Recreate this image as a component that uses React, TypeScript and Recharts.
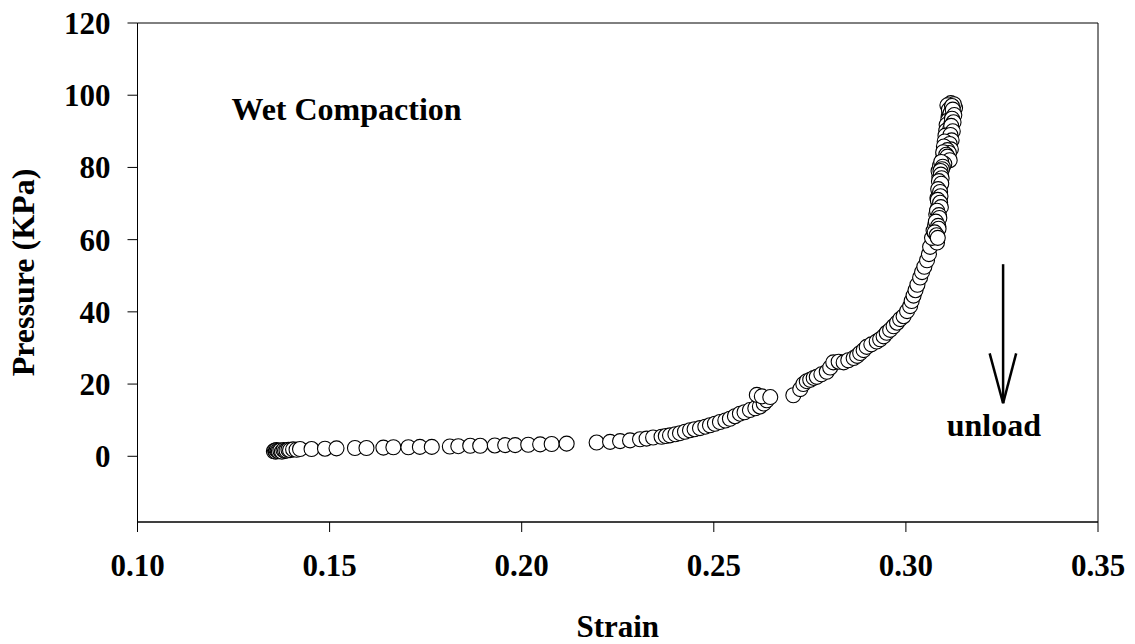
import React from "react"
import {
  ScatterChart,
  Scatter,
  XAxis,
  YAxis,
  ReferenceArea,
  ReferenceLine,
  ReferenceDot,
} from "recharts"

// wet compaction test: axial strain vs. applied pressure (kPa)
const strainTicks = [0.1, 0.15, 0.2, 0.25, 0.3, 0.35]
const pressureTicks = [0, 20, 40, 60, 80, 100, 120]

// loading path
const strain = [
  0.1355, 0.1358, 0.136, 0.1362, 0.1365, 0.1368, 0.1372, 0.1376, 0.138, 0.1384,
  0.1388, 0.1393, 0.1397, 0.1405, 0.1414, 0.1423, 0.1453, 0.1488, 0.1518, 0.1566,
  0.1596, 0.164, 0.1666, 0.1705, 0.1735, 0.1766, 0.1813, 0.1835, 0.1866, 0.1892,
  0.193, 0.1957, 0.1983, 0.2017, 0.2048, 0.2078, 0.2117, 0.2195, 0.223, 0.2256,
  0.2282, 0.2308, 0.2325, 0.2342, 0.2364, 0.2375, 0.2386, 0.24, 0.2412, 0.2425,
  0.2438, 0.245, 0.2464, 0.2478, 0.249, 0.2503, 0.2516, 0.253, 0.2542, 0.2555,
  0.2568, 0.258, 0.2594, 0.2608, 0.262, 0.263, 0.2638, 0.2612, 0.2625, 0.2647,
  0.2707, 0.2725, 0.2733, 0.2742, 0.2751, 0.276, 0.2768, 0.278, 0.2794, 0.2803,
  0.2811, 0.2825, 0.2838, 0.285, 0.2864, 0.2873, 0.2881, 0.289, 0.2898, 0.291,
  0.2924, 0.2933, 0.2942, 0.295, 0.2959, 0.2968, 0.2977, 0.2985, 0.2994, 0.3003,
  0.3011, 0.3015, 0.302, 0.3025, 0.303, 0.3037, 0.3042, 0.3048, 0.3055, 0.306,
  0.3063, 0.3081, 0.3068, 0.3072, 0.3076, 0.3081, 0.3079, 0.3083, 0.3085, 0.3082,
  0.3086, 0.3088, 0.309, 0.3087, 0.3085, 0.3089, 0.3095, 0.3098, 0.31, 0.3102,
  0.3104, 0.3107, 0.3109, 0.311, 0.3111, 0.3113, 0.3115, 0.3117,
]

const pressure = [
  1.4, 1.6, 1.3, 1.7, 1.5, 1.4, 1.6, 1.3, 1.7, 1.5,
  1.6, 1.8, 1.7, 1.9, 1.8, 2.0, 2.0, 2.1, 2.2, 2.3,
  2.3, 2.4, 2.5, 2.5, 2.6, 2.6, 2.7, 2.8, 2.9, 2.9,
  3.0, 3.1, 3.1, 3.2, 3.3, 3.4, 3.5, 3.8, 4.0, 4.2,
  4.4, 4.7, 4.9, 5.2, 5.4, 5.6, 5.8, 6.1, 6.4, 6.8,
  7.2, 7.5, 7.8, 8.2, 8.6, 9.0, 9.5, 9.9, 10.4, 11.1,
  11.8, 12.2, 12.8, 13.3, 13.8, 14.6, 15.5, 17.0, 16.6, 16.4,
  16.9, 18.6, 20.0, 20.8, 21.2, 21.7, 22.0, 22.7, 23.4, 24.6,
  26.0, 26.2, 26.0, 26.6, 27.2, 27.8, 28.6, 29.4, 30.3, 31.0,
  31.8, 32.4, 33.2, 34.2, 35.0, 36.0, 37.0, 38.0, 38.8, 40.2,
  41.6, 43.0, 44.5, 46.0, 47.5, 49.5, 51.0, 52.5, 54.3, 56.0,
  58.0, 59.2, 60.5, 62.5, 64.0, 65.5, 67.0, 68.5, 70.0, 71.5,
  73.0, 74.5, 76.0, 77.5, 79.0, 80.5, 82.0, 83.5, 85.0, 86.5,
  88.0, 89.5, 91.0, 92.5, 94.0, 95.5, 97.0, 97.8,
]

// readings held near peak load and on the way down
const peakStrain = [
  0.3128, 0.3125, 0.3108, 0.3112, 0.312, 0.3116, 0.311, 0.3121, 0.3122, 0.3126,
  0.3106, 0.3118, 0.312, 0.3124, 0.3105, 0.3115, 0.3118, 0.3122, 0.3103, 0.3113,
  0.3116, 0.3119, 0.3101, 0.311, 0.3114, 0.3117, 0.3099, 0.3108, 0.3112, 0.3097,
  0.3105, 0.3108, 0.3114, 0.31, 0.3092, 0.3096, 0.3094, 0.309, 0.3091, 0.3093,
  0.3086, 0.3092, 0.3084, 0.3089, 0.309, 0.3083, 0.3089, 0.3091, 0.3081, 0.3086,
  0.3087, 0.3078, 0.3084, 0.3085, 0.3075, 0.308, 0.3083,
]

const peakPressure = [
  96.5, 97.5, 97.2, 96.0, 97.0, 95.0, 93.0, 94.0, 96.0, 94.5,
  91.8, 92.0, 93.5, 92.5, 90.2, 90.5, 91.5, 90.0, 88.8, 88.0,
  89.0, 87.5, 87.2, 86.0, 86.5, 85.0, 85.8, 84.8, 84.0, 84.2,
  83.5, 83.0, 82.0, 81.0, 81.5, 80.2, 79.5, 79.0, 78.0, 77.0,
  76.2, 75.5, 74.0, 73.2, 72.0, 71.0, 70.2, 69.0, 68.0, 66.8,
  66.0, 65.0, 63.8, 63.0, 62.0, 61.2, 60.5,
]

const loading = strain.map((x, i) => ({ x, y: pressure[i] }))
const peak = peakStrain.map((x, i) => ({ x, y: peakPressure[i] }))

const serif = '"Liberation Serif", "Times New Roman", serif'
const textStyle = { fontFamily: serif, fontWeight: 700, fontSize: 31, fill: "#000" }
const titleStyle = { ...textStyle, fontSize: 32 }

const OpenCircle = (props: any) => (
  <circle cx={props.cx} cy={props.cy} r={7.5} fill="#fff" stroke="#000" strokeWidth={1.1} />
)

// text centred on a ReferenceDot, y is the baseline
const note = (text: string) => (props: any) => {
  const vb = props.viewBox
  return (
    <text x={vb.x + vb.width / 2} y={vb.y + vb.height / 2} textAnchor="middle" {...titleStyle}>
      {text}
    </text>
  )
}

const XTitle = (props: any) => {
  const vb = props.viewBox
  return (
    <text x={vb.x + vb.width / 2} y={vb.y + 115} textAnchor="middle" {...textStyle}>
      Strain
    </text>
  )
}

const YTitle = (props: any) => {
  const vb = props.viewBox
  const x = vb.x + 34
  const y = vb.y + vb.height / 2
  return (
    <text x={x} y={y} transform={`rotate(-90, ${x}, ${y})`} textAnchor="middle" {...titleStyle}>
      Pressure (KPa)
    </text>
  )
}

export default function App() {
  return (
    <div style={{ position: "absolute", left: 0, top: 0, background: "#fff" }}>
      <ScatterChart width={1135} height={644} margin={{ top: 23, right: 37, bottom: 0, left: 0 }}>
        <XAxis
          type="number"
          dataKey="x"
          domain={[0.1, 0.35]}
          ticks={strainTicks}
          allowDataOverflow
          tickFormatter={(v: number) => v.toFixed(2)}
          height={122}
          tickSize={10}
          tickMargin={22}
          stroke="#000"
          tick={textStyle}
          label={XTitle}
        />
        <YAxis
          type="number"
          dataKey="y"
          domain={[-18.2, 120]}
          ticks={pressureTicks}
          allowDataOverflow
          width={137.5}
          tickSize={10}
          tickMargin={17}
          stroke="#000"
          tick={textStyle}
          label={YTitle}
        />
        <ReferenceArea x1={0.1} x2={0.35} y1={-18.2} y2={120} fill="none" stroke="#000" strokeWidth={1} />
        <Scatter data={loading} shape={OpenCircle} isAnimationActive={false} />
        <Scatter data={peak} shape={OpenCircle} isAnimationActive={false} />
        <ReferenceLine segment={[{ x: 0.3253, y: 53.2 }, { x: 0.3253, y: 14.7 }]} stroke="#000" strokeWidth={2.5} />
        <ReferenceLine segment={[{ x: 0.3218, y: 28.5 }, { x: 0.3253, y: 14.7 }]} stroke="#000" strokeWidth={2.5} />
        <ReferenceLine segment={[{ x: 0.3287, y: 28.5 }, { x: 0.3253, y: 14.7 }]} stroke="#000" strokeWidth={2.5} />
        <ReferenceDot x={0.1544} y={93.2} r={1} fill="none" stroke="none" label={note("Wet Compaction")} />
        <ReferenceDot x={0.3229} y={5.5} r={1} fill="none" stroke="none" label={note("unload")} />
      </ScatterChart>
    </div>
  )
}
